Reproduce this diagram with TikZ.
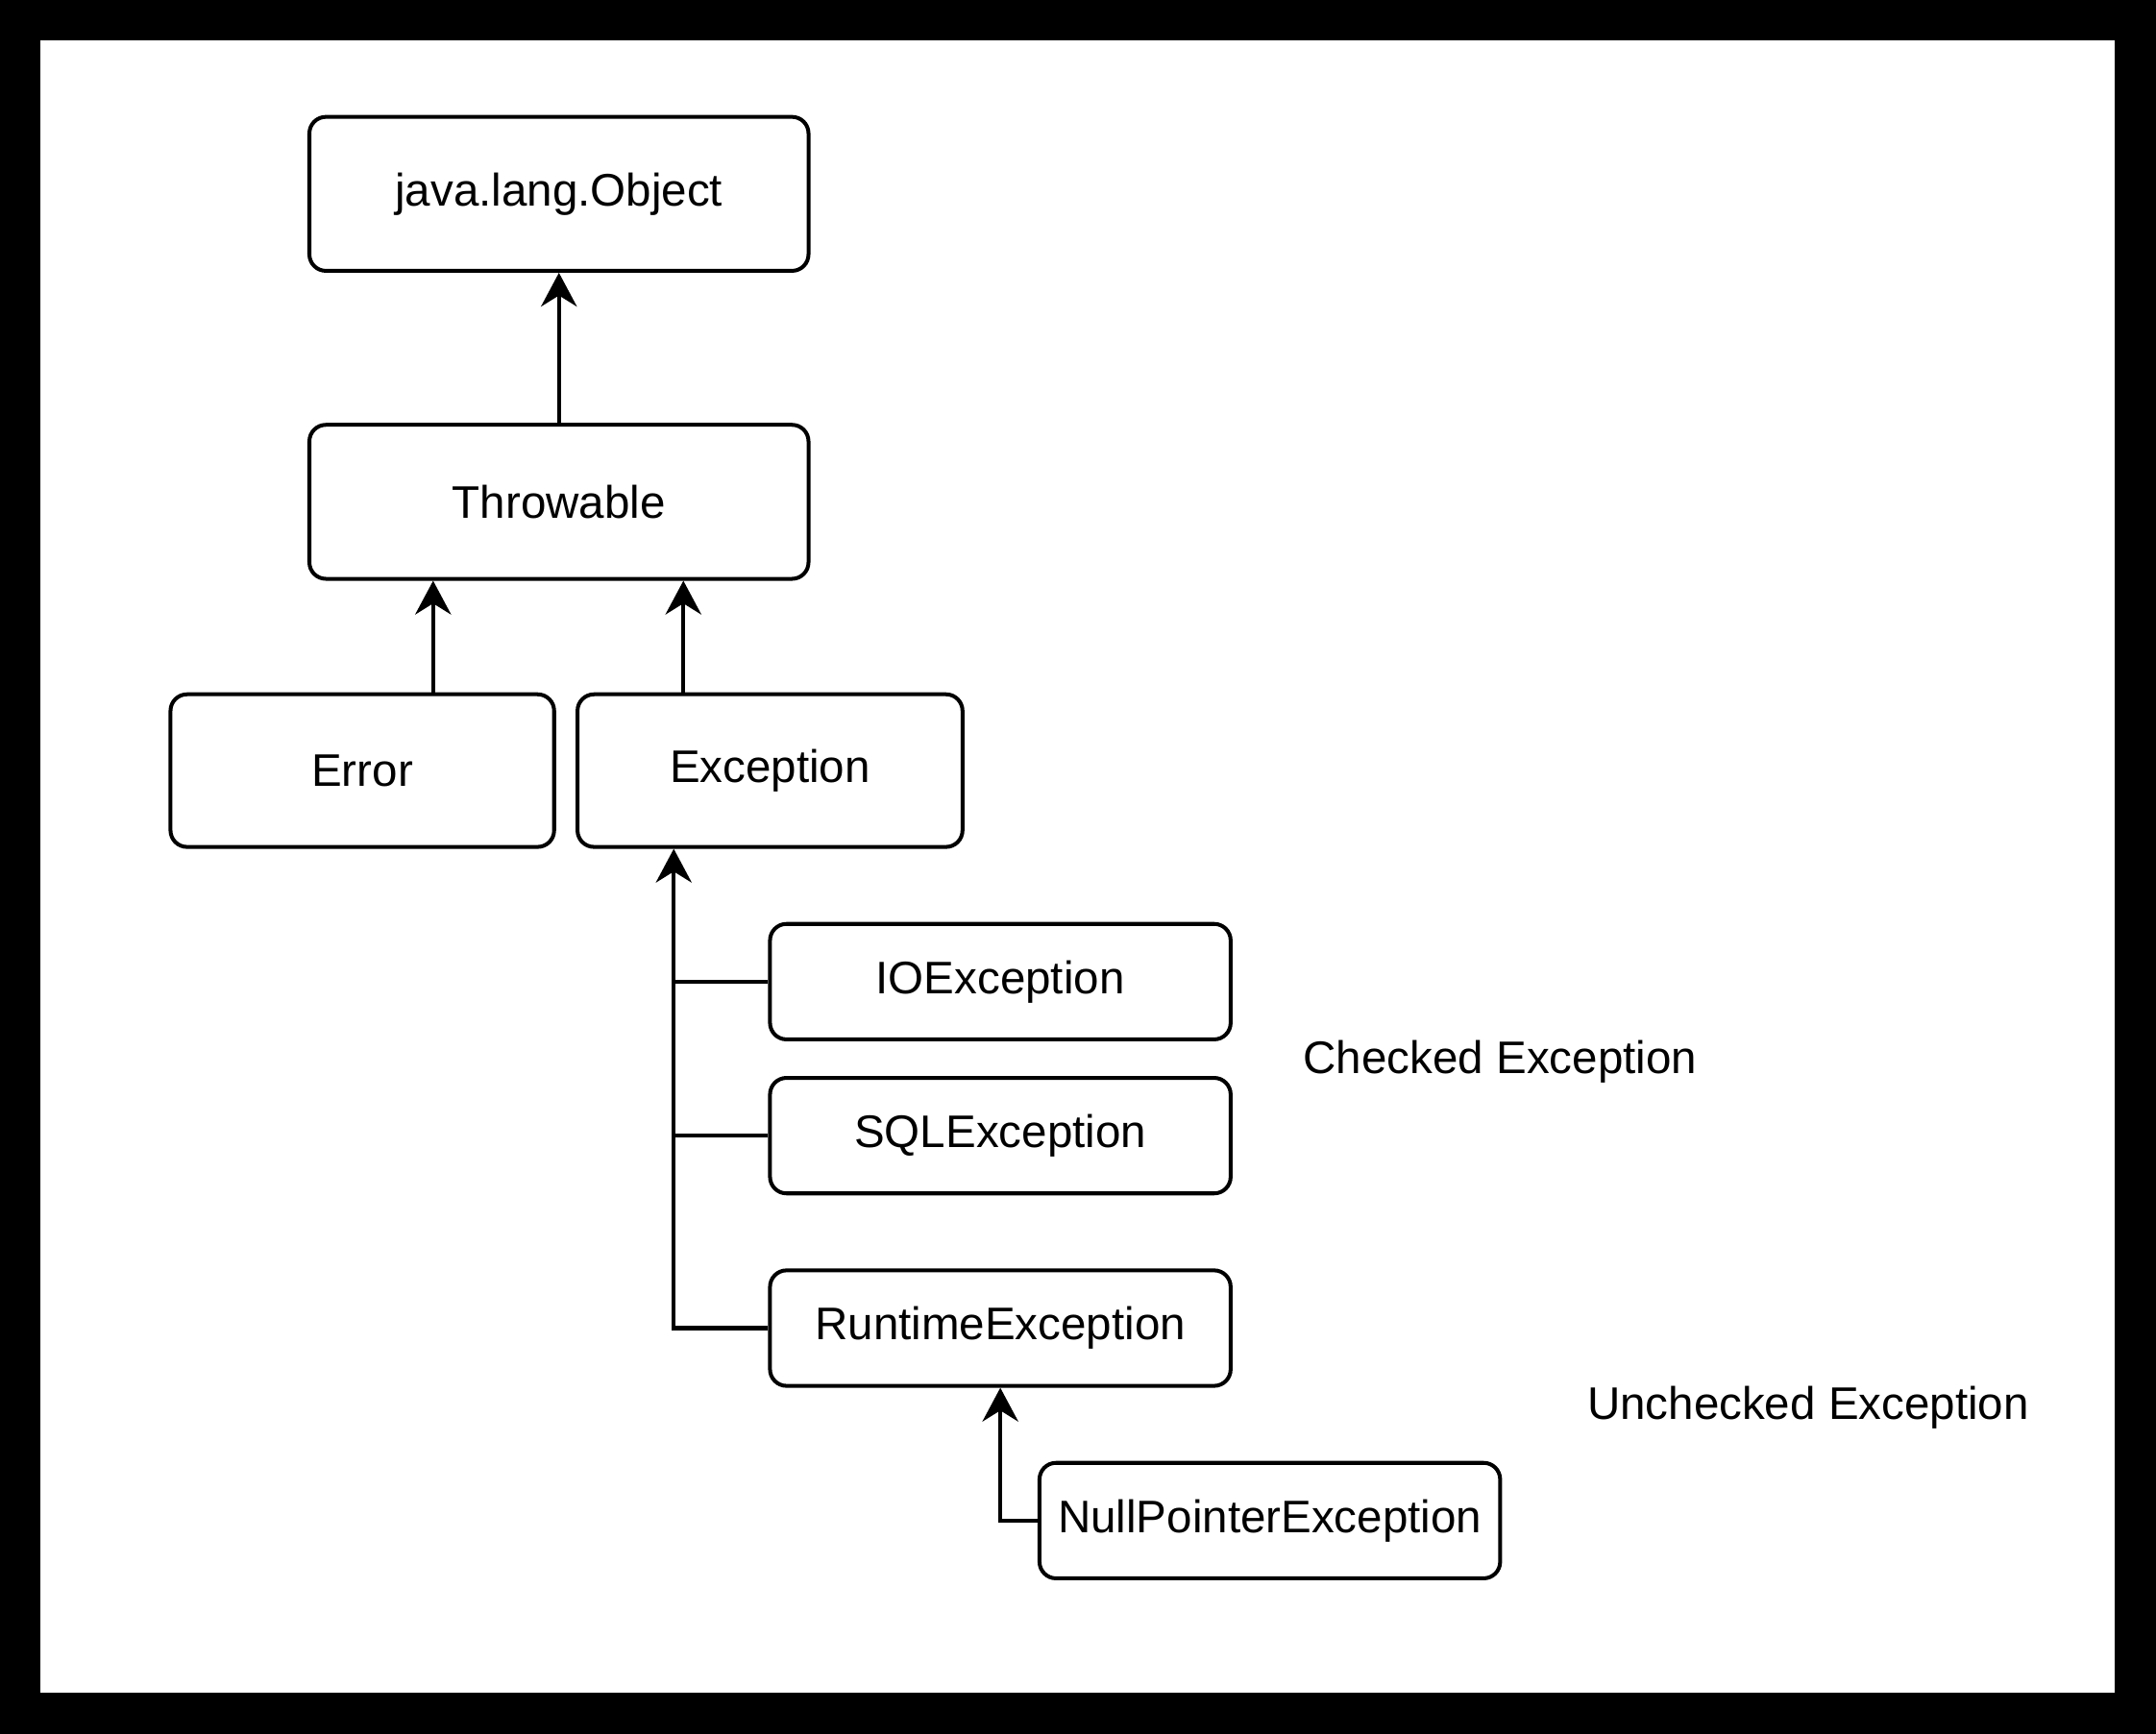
\documentclass[tikz,border=0pt]{standalone}
\usepackage{fontspec}
\setmainfont{Liberation Sans}
\usetikzlibrary{arrows.meta, positioning}

\begin{document}
\begin{tikzpicture}[
  classbox/.style={rectangle, rounded corners=0.24cm, draw=black, line width=1.6pt, fill=white, font=\fontsize{18.9}{22}\selectfont},
  plain/.style={font=\fontsize{18.9}{22}\selectfont},
  arr/.style={-{Stealth[length=0.49cm, width=0.52cm, inset=0.16cm]}, line width=1.6pt}]
% Frame
\fill[black] (0,0) rectangle (31.36,-25.22);
\fill[white] (0.58,-0.58) rectangle (30.76,-24.62);
% Class hierarchy
\node[classbox, minimum width=7.26cm, minimum height=2.24cm] (object) at (8.13,-2.82) {java.lang.Object};
\node[classbox, minimum width=7.26cm, minimum height=2.24cm] (throwable) at (8.13,-7.30) {Throwable};
\node[classbox, minimum width=5.58cm, minimum height=2.22cm] (error) at (5.27,-11.21) {Error};
\node[classbox, minimum width=5.60cm, minimum height=2.22cm] (exception) at (11.20,-11.21) {Exception};
\node[classbox, minimum width=6.70cm, minimum height=1.68cm] (ioexc) at (14.55,-14.28) {IOException};
\node[classbox, minimum width=6.70cm, minimum height=1.68cm] (sqlexc) at (14.55,-16.52) {SQLException};
\node[classbox, minimum width=6.70cm, minimum height=1.68cm] (runtime) at (14.55,-19.32) {RuntimeException};
\node[classbox, minimum width=6.70cm, minimum height=1.68cm] (nullptr) at (18.47,-22.12) {NullPointerException};
% Labels
\node[plain] (checked) at (21.82,-15.44) {Checked Exception};
\node[plain] (unchecked) at (26.30,-20.48) {Unchecked Exception};
% Connectors
\coordinate (spine) at ([xshift=-1.40cm]exception.south);
\draw[arr] (throwable.north) -- (object.south);
\draw[arr] ([xshift=1.03cm]error.north) -- ([xshift=1.03cm]error.north |- throwable.south);
\draw[arr] ([xshift=-1.26cm]exception.north) -- ([xshift=-1.26cm]exception.north |- throwable.south);
\draw[arr, line join=miter] (runtime.west) -| (spine);
\draw[line width=1.6pt] (ioexc.west) -- (ioexc.west -| spine);
\draw[line width=1.6pt] (sqlexc.west) -- (sqlexc.west -| spine);
\draw[arr, line join=miter] (nullptr.west) -| (runtime.south);
\end{tikzpicture}
\end{document}
